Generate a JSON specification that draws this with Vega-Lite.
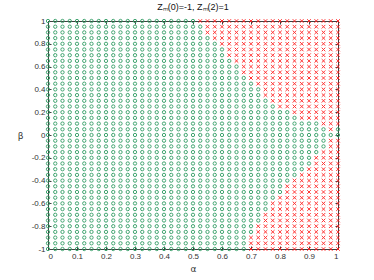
{
"$schema": "https://vega.github.io/schema/vega-lite/v6.json",
"width": 290, "height": 228,
"autosize": "none",
"padding": {"left": 48, "top": 21, "right": 36, "bottom": 31},
"background": "white",
"config": {"view": {"stroke": null}, "font": "Liberation Sans",
 "axis": {"domainColor": "#404040", "tickColor": "#404040", "labelColor": "#333333", "labelFont": "Liberation Sans", "labelFontSize": 8, "grid": false, "tickSize": -3, "labelPadding": 6, "titleFont": "DejaVu Sans", "titleFontSize": 9, "titleFontWeight": "normal", "titleColor": "#333333"}},
"title": {"text": "Zₘ(0)=-1, Zₘ(2)=1", "fontSize": 9, "fontWeight": "normal", "color": "#111111", "font": "Liberation Sans", "offset": 5, "anchor": "middle"},
"datasets": {
"g": [
{"a":0,"b":1},{"a":0.025,"b":1},{"a":0.05,"b":1},{"a":0.075,"b":1},{"a":0.1,"b":1},{"a":0.125,"b":1},{"a":0.15,"b":1},{"a":0.175,"b":1},{"a":0.2,"b":1},{"a":0.225,"b":1},{"a":0.25,"b":1},{"a":0.275,"b":1},{"a":0.3,"b":1},{"a":0.325,"b":1},{"a":0.35,"b":1},{"a":0.375,"b":1},{"a":0.4,"b":1},{"a":0.425,"b":1},{"a":0.45,"b":1},{"a":0.475,"b":1},{"a":0.5,"b":1},
{"a":0,"b":0.95},{"a":0.025,"b":0.95},{"a":0.05,"b":0.95},{"a":0.075,"b":0.95},{"a":0.1,"b":0.95},{"a":0.125,"b":0.95},{"a":0.15,"b":0.95},{"a":0.175,"b":0.95},{"a":0.2,"b":0.95},{"a":0.225,"b":0.95},{"a":0.25,"b":0.95},{"a":0.275,"b":0.95},{"a":0.3,"b":0.95},{"a":0.325,"b":0.95},{"a":0.35,"b":0.95},{"a":0.375,"b":0.95},{"a":0.4,"b":0.95},{"a":0.425,"b":0.95},{"a":0.45,"b":0.95},{"a":0.475,"b":0.95},{"a":0.5,"b":0.95},{"a":0.525,"b":0.95},
{"a":0,"b":0.9},{"a":0.025,"b":0.9},{"a":0.05,"b":0.9},{"a":0.075,"b":0.9},{"a":0.1,"b":0.9},{"a":0.125,"b":0.9},{"a":0.15,"b":0.9},{"a":0.175,"b":0.9},{"a":0.2,"b":0.9},{"a":0.225,"b":0.9},{"a":0.25,"b":0.9},{"a":0.275,"b":0.9},{"a":0.3,"b":0.9},{"a":0.325,"b":0.9},{"a":0.35,"b":0.9},{"a":0.375,"b":0.9},{"a":0.4,"b":0.9},{"a":0.425,"b":0.9},{"a":0.45,"b":0.9},{"a":0.475,"b":0.9},{"a":0.5,"b":0.9},{"a":0.525,"b":0.9},
{"a":0,"b":0.85},{"a":0.025,"b":0.85},{"a":0.05,"b":0.85},{"a":0.075,"b":0.85},{"a":0.1,"b":0.85},{"a":0.125,"b":0.85},{"a":0.15,"b":0.85},{"a":0.175,"b":0.85},{"a":0.2,"b":0.85},{"a":0.225,"b":0.85},{"a":0.25,"b":0.85},{"a":0.275,"b":0.85},{"a":0.3,"b":0.85},{"a":0.325,"b":0.85},{"a":0.35,"b":0.85},{"a":0.375,"b":0.85},{"a":0.4,"b":0.85},{"a":0.425,"b":0.85},{"a":0.45,"b":0.85},{"a":0.475,"b":0.85},{"a":0.5,"b":0.85},{"a":0.525,"b":0.85},{"a":0.55,"b":0.85},
{"a":0,"b":0.8},{"a":0.025,"b":0.8},{"a":0.05,"b":0.8},{"a":0.075,"b":0.8},{"a":0.1,"b":0.8},{"a":0.125,"b":0.8},{"a":0.15,"b":0.8},{"a":0.175,"b":0.8},{"a":0.2,"b":0.8},{"a":0.225,"b":0.8},{"a":0.25,"b":0.8},{"a":0.275,"b":0.8},{"a":0.3,"b":0.8},{"a":0.325,"b":0.8},{"a":0.35,"b":0.8},{"a":0.375,"b":0.8},{"a":0.4,"b":0.8},{"a":0.425,"b":0.8},{"a":0.45,"b":0.8},{"a":0.475,"b":0.8},{"a":0.5,"b":0.8},{"a":0.525,"b":0.8},{"a":0.55,"b":0.8},{"a":0.575,"b":0.8},
{"a":0,"b":0.75},{"a":0.025,"b":0.75},{"a":0.05,"b":0.75},{"a":0.075,"b":0.75},{"a":0.1,"b":0.75},{"a":0.125,"b":0.75},{"a":0.15,"b":0.75},{"a":0.175,"b":0.75},{"a":0.2,"b":0.75},{"a":0.225,"b":0.75},{"a":0.25,"b":0.75},{"a":0.275,"b":0.75},{"a":0.3,"b":0.75},{"a":0.325,"b":0.75},{"a":0.35,"b":0.75},{"a":0.375,"b":0.75},{"a":0.4,"b":0.75},{"a":0.425,"b":0.75},{"a":0.45,"b":0.75},{"a":0.475,"b":0.75},{"a":0.5,"b":0.75},{"a":0.525,"b":0.75},{"a":0.55,"b":0.75},{"a":0.575,"b":0.75},{"a":0.6,"b":0.75},
{"a":0,"b":0.7},{"a":0.025,"b":0.7},{"a":0.05,"b":0.7},{"a":0.075,"b":0.7},{"a":0.1,"b":0.7},{"a":0.125,"b":0.7},{"a":0.15,"b":0.7},{"a":0.175,"b":0.7},{"a":0.2,"b":0.7},{"a":0.225,"b":0.7},{"a":0.25,"b":0.7},{"a":0.275,"b":0.7},{"a":0.3,"b":0.7},{"a":0.325,"b":0.7},{"a":0.35,"b":0.7},{"a":0.375,"b":0.7},{"a":0.4,"b":0.7},{"a":0.425,"b":0.7},{"a":0.45,"b":0.7},{"a":0.475,"b":0.7},{"a":0.5,"b":0.7},{"a":0.525,"b":0.7},{"a":0.55,"b":0.7},{"a":0.575,"b":0.7},{"a":0.6,"b":0.7},
{"a":0,"b":0.65},{"a":0.025,"b":0.65},{"a":0.05,"b":0.65},{"a":0.075,"b":0.65},{"a":0.1,"b":0.65},{"a":0.125,"b":0.65},{"a":0.15,"b":0.65},{"a":0.175,"b":0.65},{"a":0.2,"b":0.65},{"a":0.225,"b":0.65},{"a":0.25,"b":0.65},{"a":0.275,"b":0.65},{"a":0.3,"b":0.65},{"a":0.325,"b":0.65},{"a":0.35,"b":0.65},{"a":0.375,"b":0.65},{"a":0.4,"b":0.65},{"a":0.425,"b":0.65},{"a":0.45,"b":0.65},{"a":0.475,"b":0.65},{"a":0.5,"b":0.65},{"a":0.525,"b":0.65},{"a":0.55,"b":0.65},{"a":0.575,"b":0.65},{"a":0.6,"b":0.65},{"a":0.625,"b":0.65},
{"a":0,"b":0.6},{"a":0.025,"b":0.6},{"a":0.05,"b":0.6},{"a":0.075,"b":0.6},{"a":0.1,"b":0.6},{"a":0.125,"b":0.6},{"a":0.15,"b":0.6},{"a":0.175,"b":0.6},{"a":0.2,"b":0.6},{"a":0.225,"b":0.6},{"a":0.25,"b":0.6},{"a":0.275,"b":0.6},{"a":0.3,"b":0.6},{"a":0.325,"b":0.6},{"a":0.35,"b":0.6},{"a":0.375,"b":0.6},{"a":0.4,"b":0.6},{"a":0.425,"b":0.6},{"a":0.45,"b":0.6},{"a":0.475,"b":0.6},{"a":0.5,"b":0.6},{"a":0.525,"b":0.6},{"a":0.55,"b":0.6},{"a":0.575,"b":0.6},{"a":0.6,"b":0.6},{"a":0.625,"b":0.6},{"a":0.65,"b":0.6},
{"a":0,"b":0.55},{"a":0.025,"b":0.55},{"a":0.05,"b":0.55},{"a":0.075,"b":0.55},{"a":0.1,"b":0.55},{"a":0.125,"b":0.55},{"a":0.15,"b":0.55},{"a":0.175,"b":0.55},{"a":0.2,"b":0.55},{"a":0.225,"b":0.55},{"a":0.25,"b":0.55},{"a":0.275,"b":0.55},{"a":0.3,"b":0.55},{"a":0.325,"b":0.55},{"a":0.35,"b":0.55},{"a":0.375,"b":0.55},{"a":0.4,"b":0.55},{"a":0.425,"b":0.55},{"a":0.45,"b":0.55},{"a":0.475,"b":0.55},{"a":0.5,"b":0.55},{"a":0.525,"b":0.55},{"a":0.55,"b":0.55},{"a":0.575,"b":0.55},{"a":0.6,"b":0.55},{"a":0.625,"b":0.55},{"a":0.65,"b":0.55},
{"a":0,"b":0.5},{"a":0.025,"b":0.5},{"a":0.05,"b":0.5},{"a":0.075,"b":0.5},{"a":0.1,"b":0.5},{"a":0.125,"b":0.5},{"a":0.15,"b":0.5},{"a":0.175,"b":0.5},{"a":0.2,"b":0.5},{"a":0.225,"b":0.5},{"a":0.25,"b":0.5},{"a":0.275,"b":0.5},{"a":0.3,"b":0.5},{"a":0.325,"b":0.5},{"a":0.35,"b":0.5},{"a":0.375,"b":0.5},{"a":0.4,"b":0.5},{"a":0.425,"b":0.5},{"a":0.45,"b":0.5},{"a":0.475,"b":0.5},{"a":0.5,"b":0.5},{"a":0.525,"b":0.5},{"a":0.55,"b":0.5},{"a":0.575,"b":0.5},{"a":0.6,"b":0.5},{"a":0.625,"b":0.5},{"a":0.65,"b":0.5},{"a":0.675,"b":0.5},
{"a":0,"b":0.45},{"a":0.025,"b":0.45},{"a":0.05,"b":0.45},{"a":0.075,"b":0.45},{"a":0.1,"b":0.45},{"a":0.125,"b":0.45},{"a":0.15,"b":0.45},{"a":0.175,"b":0.45},{"a":0.2,"b":0.45},{"a":0.225,"b":0.45},{"a":0.25,"b":0.45},{"a":0.275,"b":0.45},{"a":0.3,"b":0.45},{"a":0.325,"b":0.45},{"a":0.35,"b":0.45},{"a":0.375,"b":0.45},{"a":0.4,"b":0.45},{"a":0.425,"b":0.45},{"a":0.45,"b":0.45},{"a":0.475,"b":0.45},{"a":0.5,"b":0.45},{"a":0.525,"b":0.45},{"a":0.55,"b":0.45},{"a":0.575,"b":0.45},{"a":0.6,"b":0.45},{"a":0.625,"b":0.45},{"a":0.65,"b":0.45},{"a":0.675,"b":0.45},{"a":0.7,"b":0.45},
{"a":0,"b":0.4},{"a":0.025,"b":0.4},{"a":0.05,"b":0.4},{"a":0.075,"b":0.4},{"a":0.1,"b":0.4},{"a":0.125,"b":0.4},{"a":0.15,"b":0.4},{"a":0.175,"b":0.4},{"a":0.2,"b":0.4},{"a":0.225,"b":0.4},{"a":0.25,"b":0.4},{"a":0.275,"b":0.4},{"a":0.3,"b":0.4},{"a":0.325,"b":0.4},{"a":0.35,"b":0.4},{"a":0.375,"b":0.4},{"a":0.4,"b":0.4},{"a":0.425,"b":0.4},{"a":0.45,"b":0.4},{"a":0.475,"b":0.4},{"a":0.5,"b":0.4},{"a":0.525,"b":0.4},{"a":0.55,"b":0.4},{"a":0.575,"b":0.4},{"a":0.6,"b":0.4},{"a":0.625,"b":0.4},{"a":0.65,"b":0.4},{"a":0.675,"b":0.4},{"a":0.7,"b":0.4},{"a":0.725,"b":0.4},
{"a":0,"b":0.35},{"a":0.025,"b":0.35},{"a":0.05,"b":0.35},{"a":0.075,"b":0.35},{"a":0.1,"b":0.35},{"a":0.125,"b":0.35},{"a":0.15,"b":0.35},{"a":0.175,"b":0.35},{"a":0.2,"b":0.35},{"a":0.225,"b":0.35},{"a":0.25,"b":0.35},{"a":0.275,"b":0.35},{"a":0.3,"b":0.35},{"a":0.325,"b":0.35},{"a":0.35,"b":0.35},{"a":0.375,"b":0.35},{"a":0.4,"b":0.35},{"a":0.425,"b":0.35},{"a":0.45,"b":0.35},{"a":0.475,"b":0.35},{"a":0.5,"b":0.35},{"a":0.525,"b":0.35},{"a":0.55,"b":0.35},{"a":0.575,"b":0.35},{"a":0.6,"b":0.35},{"a":0.625,"b":0.35},{"a":0.65,"b":0.35},{"a":0.675,"b":0.35},{"a":0.7,"b":0.35},{"a":0.725,"b":0.35},
{"a":0,"b":0.3},{"a":0.025,"b":0.3},{"a":0.05,"b":0.3},{"a":0.075,"b":0.3},{"a":0.1,"b":0.3},{"a":0.125,"b":0.3},{"a":0.15,"b":0.3},{"a":0.175,"b":0.3},{"a":0.2,"b":0.3},{"a":0.225,"b":0.3},{"a":0.25,"b":0.3},{"a":0.275,"b":0.3},{"a":0.3,"b":0.3},{"a":0.325,"b":0.3},{"a":0.35,"b":0.3},{"a":0.375,"b":0.3},{"a":0.4,"b":0.3},{"a":0.425,"b":0.3},{"a":0.45,"b":0.3},{"a":0.475,"b":0.3},{"a":0.5,"b":0.3},{"a":0.525,"b":0.3},{"a":0.55,"b":0.3},{"a":0.575,"b":0.3},{"a":0.6,"b":0.3},{"a":0.625,"b":0.3},{"a":0.65,"b":0.3},{"a":0.675,"b":0.3},{"a":0.7,"b":0.3},{"a":0.725,"b":0.3},{"a":0.75,"b":0.3},
{"a":0,"b":0.25},{"a":0.025,"b":0.25},{"a":0.05,"b":0.25},{"a":0.075,"b":0.25},{"a":0.1,"b":0.25},{"a":0.125,"b":0.25},{"a":0.15,"b":0.25},{"a":0.175,"b":0.25},{"a":0.2,"b":0.25},{"a":0.225,"b":0.25},{"a":0.25,"b":0.25},{"a":0.275,"b":0.25},{"a":0.3,"b":0.25},{"a":0.325,"b":0.25},{"a":0.35,"b":0.25},{"a":0.375,"b":0.25},{"a":0.4,"b":0.25},{"a":0.425,"b":0.25},{"a":0.45,"b":0.25},{"a":0.475,"b":0.25},{"a":0.5,"b":0.25},{"a":0.525,"b":0.25},{"a":0.55,"b":0.25},{"a":0.575,"b":0.25},{"a":0.6,"b":0.25},{"a":0.625,"b":0.25},{"a":0.65,"b":0.25},{"a":0.675,"b":0.25},{"a":0.7,"b":0.25},{"a":0.725,"b":0.25},{"a":0.75,"b":0.25},{"a":0.775,"b":0.25},
{"a":0,"b":0.2},{"a":0.025,"b":0.2},{"a":0.05,"b":0.2},{"a":0.075,"b":0.2},{"a":0.1,"b":0.2},{"a":0.125,"b":0.2},{"a":0.15,"b":0.2},{"a":0.175,"b":0.2},{"a":0.2,"b":0.2},{"a":0.225,"b":0.2},{"a":0.25,"b":0.2},{"a":0.275,"b":0.2},{"a":0.3,"b":0.2},{"a":0.325,"b":0.2},{"a":0.35,"b":0.2},{"a":0.375,"b":0.2},{"a":0.4,"b":0.2},{"a":0.425,"b":0.2},{"a":0.45,"b":0.2},{"a":0.475,"b":0.2},{"a":0.5,"b":0.2},{"a":0.525,"b":0.2},{"a":0.55,"b":0.2},{"a":0.575,"b":0.2},{"a":0.6,"b":0.2},{"a":0.625,"b":0.2},{"a":0.65,"b":0.2},{"a":0.675,"b":0.2},{"a":0.7,"b":0.2},{"a":0.725,"b":0.2},{"a":0.75,"b":0.2},{"a":0.775,"b":0.2},{"a":0.8,"b":0.2},{"a":0.825,"b":0.2},
{"a":0,"b":0.15},{"a":0.025,"b":0.15},{"a":0.05,"b":0.15},{"a":0.075,"b":0.15},{"a":0.1,"b":0.15},{"a":0.125,"b":0.15},{"a":0.15,"b":0.15},{"a":0.175,"b":0.15},{"a":0.2,"b":0.15},{"a":0.225,"b":0.15},{"a":0.25,"b":0.15},{"a":0.275,"b":0.15},{"a":0.3,"b":0.15},{"a":0.325,"b":0.15},{"a":0.35,"b":0.15},{"a":0.375,"b":0.15},{"a":0.4,"b":0.15},{"a":0.425,"b":0.15},{"a":0.45,"b":0.15},{"a":0.475,"b":0.15},{"a":0.5,"b":0.15},{"a":0.525,"b":0.15},{"a":0.55,"b":0.15},{"a":0.575,"b":0.15},{"a":0.6,"b":0.15},{"a":0.625,"b":0.15},{"a":0.65,"b":0.15},{"a":0.675,"b":0.15},{"a":0.7,"b":0.15},{"a":0.725,"b":0.15},{"a":0.75,"b":0.15},{"a":0.775,"b":0.15},{"a":0.8,"b":0.15},{"a":0.825,"b":0.15},{"a":0.85,"b":0.15},
{"a":0,"b":0.1},{"a":0.025,"b":0.1},{"a":0.05,"b":0.1},{"a":0.075,"b":0.1},{"a":0.1,"b":0.1},{"a":0.125,"b":0.1},{"a":0.15,"b":0.1},{"a":0.175,"b":0.1},{"a":0.2,"b":0.1},{"a":0.225,"b":0.1},{"a":0.25,"b":0.1},{"a":0.275,"b":0.1},{"a":0.3,"b":0.1},{"a":0.325,"b":0.1},{"a":0.35,"b":0.1},{"a":0.375,"b":0.1},{"a":0.4,"b":0.1},{"a":0.425,"b":0.1},{"a":0.45,"b":0.1},{"a":0.475,"b":0.1},{"a":0.5,"b":0.1},{"a":0.525,"b":0.1},{"a":0.55,"b":0.1},{"a":0.575,"b":0.1},{"a":0.6,"b":0.1},{"a":0.625,"b":0.1},{"a":0.65,"b":0.1},{"a":0.675,"b":0.1},{"a":0.7,"b":0.1},{"a":0.725,"b":0.1},{"a":0.75,"b":0.1},{"a":0.775,"b":0.1},{"a":0.8,"b":0.1},{"a":0.825,"b":0.1},{"a":0.85,"b":0.1},{"a":0.875,"b":0.1},{"a":0.9,"b":0.1},{"a":0.925,"b":0.1},
{"a":0,"b":0.05},{"a":0.025,"b":0.05},{"a":0.05,"b":0.05},{"a":0.075,"b":0.05},{"a":0.1,"b":0.05},{"a":0.125,"b":0.05},{"a":0.15,"b":0.05},{"a":0.175,"b":0.05},{"a":0.2,"b":0.05},{"a":0.225,"b":0.05},{"a":0.25,"b":0.05},{"a":0.275,"b":0.05},{"a":0.3,"b":0.05},{"a":0.325,"b":0.05},{"a":0.35,"b":0.05},{"a":0.375,"b":0.05},{"a":0.4,"b":0.05},{"a":0.425,"b":0.05},{"a":0.45,"b":0.05},{"a":0.475,"b":0.05},{"a":0.5,"b":0.05},{"a":0.525,"b":0.05},{"a":0.55,"b":0.05},{"a":0.575,"b":0.05},{"a":0.6,"b":0.05},{"a":0.625,"b":0.05},{"a":0.65,"b":0.05},{"a":0.675,"b":0.05},{"a":0.7,"b":0.05},{"a":0.725,"b":0.05},{"a":0.75,"b":0.05},{"a":0.775,"b":0.05},{"a":0.8,"b":0.05},{"a":0.825,"b":0.05},{"a":0.85,"b":0.05},{"a":0.875,"b":0.05},{"a":0.9,"b":0.05},{"a":0.925,"b":0.05},{"a":0.95,"b":0.05},{"a":1,"b":0.05},
{"a":0,"b":0},{"a":0.025,"b":0},{"a":0.05,"b":0},{"a":0.075,"b":0},{"a":0.1,"b":0},{"a":0.125,"b":0},{"a":0.15,"b":0},{"a":0.175,"b":0},{"a":0.2,"b":0},{"a":0.225,"b":0},{"a":0.25,"b":0},{"a":0.275,"b":0},{"a":0.3,"b":0},{"a":0.325,"b":0},{"a":0.35,"b":0},{"a":0.375,"b":0},{"a":0.4,"b":0},{"a":0.425,"b":0},{"a":0.45,"b":0},{"a":0.475,"b":0},{"a":0.5,"b":0},{"a":0.525,"b":0},{"a":0.55,"b":0},{"a":0.575,"b":0},{"a":0.6,"b":0},{"a":0.625,"b":0},{"a":0.65,"b":0},{"a":0.675,"b":0},{"a":0.7,"b":0},{"a":0.725,"b":0},{"a":0.75,"b":0},{"a":0.775,"b":0},{"a":0.8,"b":0},{"a":0.825,"b":0},{"a":0.85,"b":0},{"a":0.875,"b":0},{"a":0.9,"b":0},{"a":0.925,"b":0},{"a":0.95,"b":0},{"a":0.975,"b":0},{"a":1,"b":0},
{"a":0,"b":-0.05},{"a":0.025,"b":-0.05},{"a":0.05,"b":-0.05},{"a":0.075,"b":-0.05},{"a":0.1,"b":-0.05},{"a":0.125,"b":-0.05},{"a":0.15,"b":-0.05},{"a":0.175,"b":-0.05},{"a":0.2,"b":-0.05},{"a":0.225,"b":-0.05},{"a":0.25,"b":-0.05},{"a":0.275,"b":-0.05},{"a":0.3,"b":-0.05},{"a":0.325,"b":-0.05},{"a":0.35,"b":-0.05},{"a":0.375,"b":-0.05},{"a":0.4,"b":-0.05},{"a":0.425,"b":-0.05},{"a":0.45,"b":-0.05},{"a":0.475,"b":-0.05},{"a":0.5,"b":-0.05},{"a":0.525,"b":-0.05},{"a":0.55,"b":-0.05},{"a":0.575,"b":-0.05},{"a":0.6,"b":-0.05},{"a":0.625,"b":-0.05},{"a":0.65,"b":-0.05},{"a":0.675,"b":-0.05},{"a":0.7,"b":-0.05},{"a":0.725,"b":-0.05},{"a":0.75,"b":-0.05},{"a":0.775,"b":-0.05},{"a":0.8,"b":-0.05},{"a":0.825,"b":-0.05},{"a":0.85,"b":-0.05},{"a":0.875,"b":-0.05},{"a":0.9,"b":-0.05},{"a":0.925,"b":-0.05},{"a":0.95,"b":-0.05},
{"a":0,"b":-0.1},{"a":0.025,"b":-0.1},{"a":0.05,"b":-0.1},{"a":0.075,"b":-0.1},{"a":0.1,"b":-0.1},{"a":0.125,"b":-0.1},{"a":0.15,"b":-0.1},{"a":0.175,"b":-0.1},{"a":0.2,"b":-0.1},{"a":0.225,"b":-0.1},{"a":0.25,"b":-0.1},{"a":0.275,"b":-0.1},{"a":0.3,"b":-0.1},{"a":0.325,"b":-0.1},{"a":0.35,"b":-0.1},{"a":0.375,"b":-0.1},{"a":0.4,"b":-0.1},{"a":0.425,"b":-0.1},{"a":0.45,"b":-0.1},{"a":0.475,"b":-0.1},{"a":0.5,"b":-0.1},{"a":0.525,"b":-0.1},{"a":0.55,"b":-0.1},{"a":0.575,"b":-0.1},{"a":0.6,"b":-0.1},{"a":0.625,"b":-0.1},{"a":0.65,"b":-0.1},{"a":0.675,"b":-0.1},{"a":0.7,"b":-0.1},{"a":0.725,"b":-0.1},{"a":0.75,"b":-0.1},{"a":0.775,"b":-0.1},{"a":0.8,"b":-0.1},{"a":0.825,"b":-0.1},{"a":0.85,"b":-0.1},{"a":0.875,"b":-0.1},{"a":0.9,"b":-0.1},{"a":0.925,"b":-0.1},{"a":0.95,"b":-0.1},
{"a":0,"b":-0.15},{"a":0.025,"b":-0.15},{"a":0.05,"b":-0.15},{"a":0.075,"b":-0.15},{"a":0.1,"b":-0.15},{"a":0.125,"b":-0.15},{"a":0.15,"b":-0.15},{"a":0.175,"b":-0.15},{"a":0.2,"b":-0.15},{"a":0.225,"b":-0.15},{"a":0.25,"b":-0.15},{"a":0.275,"b":-0.15},{"a":0.3,"b":-0.15},{"a":0.325,"b":-0.15},{"a":0.35,"b":-0.15},{"a":0.375,"b":-0.15},{"a":0.4,"b":-0.15},{"a":0.425,"b":-0.15},{"a":0.45,"b":-0.15},{"a":0.475,"b":-0.15},{"a":0.5,"b":-0.15},{"a":0.525,"b":-0.15},{"a":0.55,"b":-0.15},{"a":0.575,"b":-0.15},{"a":0.6,"b":-0.15},{"a":0.625,"b":-0.15},{"a":0.65,"b":-0.15},{"a":0.675,"b":-0.15},{"a":0.7,"b":-0.15},{"a":0.725,"b":-0.15},{"a":0.75,"b":-0.15},{"a":0.775,"b":-0.15},{"a":0.8,"b":-0.15},{"a":0.825,"b":-0.15},{"a":0.85,"b":-0.15},{"a":0.875,"b":-0.15},{"a":0.9,"b":-0.15},{"a":0.925,"b":-0.15},
{"a":0,"b":-0.2},{"a":0.025,"b":-0.2},{"a":0.05,"b":-0.2},{"a":0.075,"b":-0.2},{"a":0.1,"b":-0.2},{"a":0.125,"b":-0.2},{"a":0.15,"b":-0.2},{"a":0.175,"b":-0.2},{"a":0.2,"b":-0.2},{"a":0.225,"b":-0.2},{"a":0.25,"b":-0.2},{"a":0.275,"b":-0.2},{"a":0.3,"b":-0.2},{"a":0.325,"b":-0.2},{"a":0.35,"b":-0.2},{"a":0.375,"b":-0.2},{"a":0.4,"b":-0.2},{"a":0.425,"b":-0.2},{"a":0.45,"b":-0.2},{"a":0.475,"b":-0.2},{"a":0.5,"b":-0.2},{"a":0.525,"b":-0.2},{"a":0.55,"b":-0.2},{"a":0.575,"b":-0.2},{"a":0.6,"b":-0.2},{"a":0.625,"b":-0.2},{"a":0.65,"b":-0.2},{"a":0.675,"b":-0.2},{"a":0.7,"b":-0.2},{"a":0.725,"b":-0.2},{"a":0.75,"b":-0.2},{"a":0.775,"b":-0.2},{"a":0.8,"b":-0.2},{"a":0.825,"b":-0.2},{"a":0.85,"b":-0.2},{"a":0.875,"b":-0.2},{"a":0.9,"b":-0.2},
{"a":0,"b":-0.25},{"a":0.025,"b":-0.25},{"a":0.05,"b":-0.25},{"a":0.075,"b":-0.25},{"a":0.1,"b":-0.25},{"a":0.125,"b":-0.25},{"a":0.15,"b":-0.25},{"a":0.175,"b":-0.25},{"a":0.2,"b":-0.25},{"a":0.225,"b":-0.25},{"a":0.25,"b":-0.25},{"a":0.275,"b":-0.25},{"a":0.3,"b":-0.25},{"a":0.325,"b":-0.25},{"a":0.35,"b":-0.25},{"a":0.375,"b":-0.25},{"a":0.4,"b":-0.25},{"a":0.425,"b":-0.25},{"a":0.45,"b":-0.25},{"a":0.475,"b":-0.25},{"a":0.5,"b":-0.25},{"a":0.525,"b":-0.25},{"a":0.55,"b":-0.25},{"a":0.575,"b":-0.25},{"a":0.6,"b":-0.25},{"a":0.625,"b":-0.25},{"a":0.65,"b":-0.25},{"a":0.675,"b":-0.25},{"a":0.7,"b":-0.25},{"a":0.725,"b":-0.25},{"a":0.75,"b":-0.25},{"a":0.775,"b":-0.25},{"a":0.8,"b":-0.25},{"a":0.825,"b":-0.25},{"a":0.85,"b":-0.25},{"a":0.875,"b":-0.25},{"a":0.9,"b":-0.25},
{"a":0,"b":-0.3},{"a":0.025,"b":-0.3},{"a":0.05,"b":-0.3},{"a":0.075,"b":-0.3},{"a":0.1,"b":-0.3},{"a":0.125,"b":-0.3},{"a":0.15,"b":-0.3},{"a":0.175,"b":-0.3},{"a":0.2,"b":-0.3},{"a":0.225,"b":-0.3},{"a":0.25,"b":-0.3},{"a":0.275,"b":-0.3},{"a":0.3,"b":-0.3},{"a":0.325,"b":-0.3},{"a":0.35,"b":-0.3},{"a":0.375,"b":-0.3},{"a":0.4,"b":-0.3},{"a":0.425,"b":-0.3},{"a":0.45,"b":-0.3},{"a":0.475,"b":-0.3},{"a":0.5,"b":-0.3},{"a":0.525,"b":-0.3},{"a":0.55,"b":-0.3},{"a":0.575,"b":-0.3},{"a":0.6,"b":-0.3},{"a":0.625,"b":-0.3},{"a":0.65,"b":-0.3},{"a":0.675,"b":-0.3},{"a":0.7,"b":-0.3},{"a":0.725,"b":-0.3},{"a":0.75,"b":-0.3},{"a":0.775,"b":-0.3},{"a":0.8,"b":-0.3},{"a":0.825,"b":-0.3},{"a":0.85,"b":-0.3},{"a":0.875,"b":-0.3},
{"a":0,"b":-0.35},{"a":0.025,"b":-0.35},{"a":0.05,"b":-0.35},{"a":0.075,"b":-0.35},{"a":0.1,"b":-0.35},{"a":0.125,"b":-0.35},{"a":0.15,"b":-0.35},{"a":0.175,"b":-0.35},{"a":0.2,"b":-0.35},{"a":0.225,"b":-0.35},{"a":0.25,"b":-0.35},{"a":0.275,"b":-0.35},{"a":0.3,"b":-0.35},{"a":0.325,"b":-0.35},{"a":0.35,"b":-0.35},{"a":0.375,"b":-0.35},{"a":0.4,"b":-0.35},{"a":0.425,"b":-0.35},{"a":0.45,"b":-0.35},{"a":0.475,"b":-0.35},{"a":0.5,"b":-0.35},{"a":0.525,"b":-0.35},{"a":0.55,"b":-0.35},{"a":0.575,"b":-0.35},{"a":0.6,"b":-0.35},{"a":0.625,"b":-0.35},{"a":0.65,"b":-0.35},{"a":0.675,"b":-0.35},{"a":0.7,"b":-0.35},{"a":0.725,"b":-0.35},{"a":0.75,"b":-0.35},{"a":0.775,"b":-0.35},{"a":0.8,"b":-0.35},{"a":0.825,"b":-0.35},{"a":0.85,"b":-0.35},
{"a":0,"b":-0.4},{"a":0.025,"b":-0.4},{"a":0.05,"b":-0.4},{"a":0.075,"b":-0.4},{"a":0.1,"b":-0.4},{"a":0.125,"b":-0.4},{"a":0.15,"b":-0.4},{"a":0.175,"b":-0.4},{"a":0.2,"b":-0.4},{"a":0.225,"b":-0.4},{"a":0.25,"b":-0.4},{"a":0.275,"b":-0.4},{"a":0.3,"b":-0.4},{"a":0.325,"b":-0.4},{"a":0.35,"b":-0.4},{"a":0.375,"b":-0.4},{"a":0.4,"b":-0.4},{"a":0.425,"b":-0.4},{"a":0.45,"b":-0.4},{"a":0.475,"b":-0.4},{"a":0.5,"b":-0.4},{"a":0.525,"b":-0.4},{"a":0.55,"b":-0.4},{"a":0.575,"b":-0.4},{"a":0.6,"b":-0.4},{"a":0.625,"b":-0.4},{"a":0.65,"b":-0.4},{"a":0.675,"b":-0.4},{"a":0.7,"b":-0.4},{"a":0.725,"b":-0.4},{"a":0.75,"b":-0.4},{"a":0.775,"b":-0.4},{"a":0.8,"b":-0.4},{"a":0.825,"b":-0.4},
{"a":0,"b":-0.45},{"a":0.025,"b":-0.45},{"a":0.05,"b":-0.45},{"a":0.075,"b":-0.45},{"a":0.1,"b":-0.45},{"a":0.125,"b":-0.45},{"a":0.15,"b":-0.45},{"a":0.175,"b":-0.45},{"a":0.2,"b":-0.45},{"a":0.225,"b":-0.45},{"a":0.25,"b":-0.45},{"a":0.275,"b":-0.45},{"a":0.3,"b":-0.45},{"a":0.325,"b":-0.45},{"a":0.35,"b":-0.45},{"a":0.375,"b":-0.45},{"a":0.4,"b":-0.45},{"a":0.425,"b":-0.45},{"a":0.45,"b":-0.45},{"a":0.475,"b":-0.45},{"a":0.5,"b":-0.45},{"a":0.525,"b":-0.45},{"a":0.55,"b":-0.45},{"a":0.575,"b":-0.45},{"a":0.6,"b":-0.45},{"a":0.625,"b":-0.45},{"a":0.65,"b":-0.45},{"a":0.675,"b":-0.45},{"a":0.7,"b":-0.45},{"a":0.725,"b":-0.45},{"a":0.75,"b":-0.45},{"a":0.775,"b":-0.45},{"a":0.8,"b":-0.45},
{"a":0,"b":-0.5},{"a":0.025,"b":-0.5},{"a":0.05,"b":-0.5},{"a":0.075,"b":-0.5},{"a":0.1,"b":-0.5},{"a":0.125,"b":-0.5},{"a":0.15,"b":-0.5},{"a":0.175,"b":-0.5},{"a":0.2,"b":-0.5},{"a":0.225,"b":-0.5},{"a":0.25,"b":-0.5},{"a":0.275,"b":-0.5},{"a":0.3,"b":-0.5},{"a":0.325,"b":-0.5},{"a":0.35,"b":-0.5},{"a":0.375,"b":-0.5},{"a":0.4,"b":-0.5},{"a":0.425,"b":-0.5},{"a":0.45,"b":-0.5},{"a":0.475,"b":-0.5},{"a":0.5,"b":-0.5},{"a":0.525,"b":-0.5},{"a":0.55,"b":-0.5},{"a":0.575,"b":-0.5},{"a":0.6,"b":-0.5},{"a":0.625,"b":-0.5},{"a":0.65,"b":-0.5},{"a":0.675,"b":-0.5},{"a":0.7,"b":-0.5},{"a":0.725,"b":-0.5},{"a":0.75,"b":-0.5},{"a":0.775,"b":-0.5},{"a":0.8,"b":-0.5},
{"a":0,"b":-0.55},{"a":0.025,"b":-0.55},{"a":0.05,"b":-0.55},{"a":0.075,"b":-0.55},{"a":0.1,"b":-0.55},{"a":0.125,"b":-0.55},{"a":0.15,"b":-0.55},{"a":0.175,"b":-0.55},{"a":0.2,"b":-0.55},{"a":0.225,"b":-0.55},{"a":0.25,"b":-0.55},{"a":0.275,"b":-0.55},{"a":0.3,"b":-0.55},{"a":0.325,"b":-0.55},{"a":0.35,"b":-0.55},{"a":0.375,"b":-0.55},{"a":0.4,"b":-0.55},{"a":0.425,"b":-0.55},{"a":0.45,"b":-0.55},{"a":0.475,"b":-0.55},{"a":0.5,"b":-0.55},{"a":0.525,"b":-0.55},{"a":0.55,"b":-0.55},{"a":0.575,"b":-0.55},{"a":0.6,"b":-0.55},{"a":0.625,"b":-0.55},{"a":0.65,"b":-0.55},{"a":0.675,"b":-0.55},{"a":0.7,"b":-0.55},{"a":0.725,"b":-0.55},{"a":0.75,"b":-0.55},{"a":0.775,"b":-0.55},
{"a":0,"b":-0.6},{"a":0.025,"b":-0.6},{"a":0.05,"b":-0.6},{"a":0.075,"b":-0.6},{"a":0.1,"b":-0.6},{"a":0.125,"b":-0.6},{"a":0.15,"b":-0.6},{"a":0.175,"b":-0.6},{"a":0.2,"b":-0.6},{"a":0.225,"b":-0.6},{"a":0.25,"b":-0.6},{"a":0.275,"b":-0.6},{"a":0.3,"b":-0.6},{"a":0.325,"b":-0.6},{"a":0.35,"b":-0.6},{"a":0.375,"b":-0.6},{"a":0.4,"b":-0.6},{"a":0.425,"b":-0.6},{"a":0.45,"b":-0.6},{"a":0.475,"b":-0.6},{"a":0.5,"b":-0.6},{"a":0.525,"b":-0.6},{"a":0.55,"b":-0.6},{"a":0.575,"b":-0.6},{"a":0.6,"b":-0.6},{"a":0.625,"b":-0.6},{"a":0.65,"b":-0.6},{"a":0.675,"b":-0.6},{"a":0.7,"b":-0.6},{"a":0.725,"b":-0.6},{"a":0.75,"b":-0.6},
{"a":0,"b":-0.65},{"a":0.025,"b":-0.65},{"a":0.05,"b":-0.65},{"a":0.075,"b":-0.65},{"a":0.1,"b":-0.65},{"a":0.125,"b":-0.65},{"a":0.15,"b":-0.65},{"a":0.175,"b":-0.65},{"a":0.2,"b":-0.65},{"a":0.225,"b":-0.65},{"a":0.25,"b":-0.65},{"a":0.275,"b":-0.65},{"a":0.3,"b":-0.65},{"a":0.325,"b":-0.65},{"a":0.35,"b":-0.65},{"a":0.375,"b":-0.65},{"a":0.4,"b":-0.65},{"a":0.425,"b":-0.65},{"a":0.45,"b":-0.65},{"a":0.475,"b":-0.65},{"a":0.5,"b":-0.65},{"a":0.525,"b":-0.65},{"a":0.55,"b":-0.65},{"a":0.575,"b":-0.65},{"a":0.6,"b":-0.65},{"a":0.625,"b":-0.65},{"a":0.65,"b":-0.65},{"a":0.675,"b":-0.65},{"a":0.7,"b":-0.65},{"a":0.725,"b":-0.65},{"a":0.75,"b":-0.65},
{"a":0,"b":-0.7},{"a":0.025,"b":-0.7},{"a":0.05,"b":-0.7},{"a":0.075,"b":-0.7},{"a":0.1,"b":-0.7},{"a":0.125,"b":-0.7},{"a":0.15,"b":-0.7},{"a":0.175,"b":-0.7},{"a":0.2,"b":-0.7},{"a":0.225,"b":-0.7},{"a":0.25,"b":-0.7},{"a":0.275,"b":-0.7},{"a":0.3,"b":-0.7},{"a":0.325,"b":-0.7},{"a":0.35,"b":-0.7},{"a":0.375,"b":-0.7},{"a":0.4,"b":-0.7},{"a":0.425,"b":-0.7},{"a":0.45,"b":-0.7},{"a":0.475,"b":-0.7},{"a":0.5,"b":-0.7},{"a":0.525,"b":-0.7},{"a":0.55,"b":-0.7},{"a":0.575,"b":-0.7},{"a":0.6,"b":-0.7},{"a":0.625,"b":-0.7},{"a":0.65,"b":-0.7},{"a":0.675,"b":-0.7},{"a":0.7,"b":-0.7},{"a":0.725,"b":-0.7},
{"a":0,"b":-0.75},{"a":0.025,"b":-0.75},{"a":0.05,"b":-0.75},{"a":0.075,"b":-0.75},{"a":0.1,"b":-0.75},{"a":0.125,"b":-0.75},{"a":0.15,"b":-0.75},{"a":0.175,"b":-0.75},{"a":0.2,"b":-0.75},{"a":0.225,"b":-0.75},{"a":0.25,"b":-0.75},{"a":0.275,"b":-0.75},{"a":0.3,"b":-0.75},{"a":0.325,"b":-0.75},{"a":0.35,"b":-0.75},{"a":0.375,"b":-0.75},{"a":0.4,"b":-0.75},{"a":0.425,"b":-0.75},{"a":0.45,"b":-0.75},{"a":0.475,"b":-0.75},{"a":0.5,"b":-0.75},{"a":0.525,"b":-0.75},{"a":0.55,"b":-0.75},{"a":0.575,"b":-0.75},{"a":0.6,"b":-0.75},{"a":0.625,"b":-0.75},{"a":0.65,"b":-0.75},{"a":0.675,"b":-0.75},{"a":0.7,"b":-0.75},{"a":0.725,"b":-0.75},
{"a":0,"b":-0.8},{"a":0.025,"b":-0.8},{"a":0.05,"b":-0.8},{"a":0.075,"b":-0.8},{"a":0.1,"b":-0.8},{"a":0.125,"b":-0.8},{"a":0.15,"b":-0.8},{"a":0.175,"b":-0.8},{"a":0.2,"b":-0.8},{"a":0.225,"b":-0.8},{"a":0.25,"b":-0.8},{"a":0.275,"b":-0.8},{"a":0.3,"b":-0.8},{"a":0.325,"b":-0.8},{"a":0.35,"b":-0.8},{"a":0.375,"b":-0.8},{"a":0.4,"b":-0.8},{"a":0.425,"b":-0.8},{"a":0.45,"b":-0.8},{"a":0.475,"b":-0.8},{"a":0.5,"b":-0.8},{"a":0.525,"b":-0.8},{"a":0.55,"b":-0.8},{"a":0.575,"b":-0.8},{"a":0.6,"b":-0.8},{"a":0.625,"b":-0.8},{"a":0.65,"b":-0.8},{"a":0.675,"b":-0.8},{"a":0.7,"b":-0.8},
{"a":0,"b":-0.85},{"a":0.025,"b":-0.85},{"a":0.05,"b":-0.85},{"a":0.075,"b":-0.85},{"a":0.1,"b":-0.85},{"a":0.125,"b":-0.85},{"a":0.15,"b":-0.85},{"a":0.175,"b":-0.85},{"a":0.2,"b":-0.85},{"a":0.225,"b":-0.85},{"a":0.25,"b":-0.85},{"a":0.275,"b":-0.85},{"a":0.3,"b":-0.85},{"a":0.325,"b":-0.85},{"a":0.35,"b":-0.85},{"a":0.375,"b":-0.85},{"a":0.4,"b":-0.85},{"a":0.425,"b":-0.85},{"a":0.45,"b":-0.85},{"a":0.475,"b":-0.85},{"a":0.5,"b":-0.85},{"a":0.525,"b":-0.85},{"a":0.55,"b":-0.85},{"a":0.575,"b":-0.85},{"a":0.6,"b":-0.85},{"a":0.625,"b":-0.85},{"a":0.65,"b":-0.85},{"a":0.675,"b":-0.85},{"a":0.7,"b":-0.85},
{"a":0,"b":-0.9},{"a":0.025,"b":-0.9},{"a":0.05,"b":-0.9},{"a":0.075,"b":-0.9},{"a":0.1,"b":-0.9},{"a":0.125,"b":-0.9},{"a":0.15,"b":-0.9},{"a":0.175,"b":-0.9},{"a":0.2,"b":-0.9},{"a":0.225,"b":-0.9},{"a":0.25,"b":-0.9},{"a":0.275,"b":-0.9},{"a":0.3,"b":-0.9},{"a":0.325,"b":-0.9},{"a":0.35,"b":-0.9},{"a":0.375,"b":-0.9},{"a":0.4,"b":-0.9},{"a":0.425,"b":-0.9},{"a":0.45,"b":-0.9},{"a":0.475,"b":-0.9},{"a":0.5,"b":-0.9},{"a":0.525,"b":-0.9},{"a":0.55,"b":-0.9},{"a":0.575,"b":-0.9},{"a":0.6,"b":-0.9},{"a":0.625,"b":-0.9},{"a":0.65,"b":-0.9},{"a":0.675,"b":-0.9},
{"a":0,"b":-0.95},{"a":0.025,"b":-0.95},{"a":0.05,"b":-0.95},{"a":0.075,"b":-0.95},{"a":0.1,"b":-0.95},{"a":0.125,"b":-0.95},{"a":0.15,"b":-0.95},{"a":0.175,"b":-0.95},{"a":0.2,"b":-0.95},{"a":0.225,"b":-0.95},{"a":0.25,"b":-0.95},{"a":0.275,"b":-0.95},{"a":0.3,"b":-0.95},{"a":0.325,"b":-0.95},{"a":0.35,"b":-0.95},{"a":0.375,"b":-0.95},{"a":0.4,"b":-0.95},{"a":0.425,"b":-0.95},{"a":0.45,"b":-0.95},{"a":0.475,"b":-0.95},{"a":0.5,"b":-0.95},{"a":0.525,"b":-0.95},{"a":0.55,"b":-0.95},{"a":0.575,"b":-0.95},{"a":0.6,"b":-0.95},{"a":0.625,"b":-0.95},{"a":0.65,"b":-0.95},{"a":0.675,"b":-0.95},
{"a":0,"b":-1},{"a":0.025,"b":-1},{"a":0.05,"b":-1},{"a":0.075,"b":-1},{"a":0.1,"b":-1},{"a":0.125,"b":-1},{"a":0.15,"b":-1},{"a":0.175,"b":-1},{"a":0.2,"b":-1},{"a":0.225,"b":-1},{"a":0.25,"b":-1},{"a":0.275,"b":-1},{"a":0.3,"b":-1},{"a":0.325,"b":-1},{"a":0.35,"b":-1},{"a":0.375,"b":-1},{"a":0.4,"b":-1},{"a":0.425,"b":-1},{"a":0.45,"b":-1},{"a":0.475,"b":-1},{"a":0.5,"b":-1},{"a":0.525,"b":-1},{"a":0.55,"b":-1},{"a":0.575,"b":-1},{"a":0.6,"b":-1},{"a":0.625,"b":-1},{"a":0.65,"b":-1},{"a":0.675,"b":-1}
],
"r": [
{"a":0.525,"b":1},{"a":0.55,"b":1},{"a":0.575,"b":1},{"a":0.6,"b":1},{"a":0.625,"b":1},{"a":0.65,"b":1},{"a":0.675,"b":1},{"a":0.7,"b":1},{"a":0.725,"b":1},{"a":0.75,"b":1},{"a":0.775,"b":1},{"a":0.8,"b":1},{"a":0.825,"b":1},{"a":0.85,"b":1},{"a":0.875,"b":1},{"a":0.9,"b":1},{"a":0.925,"b":1},{"a":0.95,"b":1},{"a":0.975,"b":1},{"a":1,"b":1},
{"a":0.55,"b":0.95},{"a":0.575,"b":0.95},{"a":0.6,"b":0.95},{"a":0.625,"b":0.95},{"a":0.65,"b":0.95},{"a":0.675,"b":0.95},{"a":0.7,"b":0.95},{"a":0.725,"b":0.95},{"a":0.75,"b":0.95},{"a":0.775,"b":0.95},{"a":0.8,"b":0.95},{"a":0.825,"b":0.95},{"a":0.85,"b":0.95},{"a":0.875,"b":0.95},{"a":0.9,"b":0.95},{"a":0.925,"b":0.95},{"a":0.95,"b":0.95},{"a":0.975,"b":0.95},{"a":1,"b":0.95},
{"a":0.55,"b":0.9},{"a":0.575,"b":0.9},{"a":0.6,"b":0.9},{"a":0.625,"b":0.9},{"a":0.65,"b":0.9},{"a":0.675,"b":0.9},{"a":0.7,"b":0.9},{"a":0.725,"b":0.9},{"a":0.75,"b":0.9},{"a":0.775,"b":0.9},{"a":0.8,"b":0.9},{"a":0.825,"b":0.9},{"a":0.85,"b":0.9},{"a":0.875,"b":0.9},{"a":0.9,"b":0.9},{"a":0.925,"b":0.9},{"a":0.95,"b":0.9},{"a":0.975,"b":0.9},{"a":1,"b":0.9},
{"a":0.575,"b":0.85},{"a":0.6,"b":0.85},{"a":0.625,"b":0.85},{"a":0.65,"b":0.85},{"a":0.675,"b":0.85},{"a":0.7,"b":0.85},{"a":0.725,"b":0.85},{"a":0.75,"b":0.85},{"a":0.775,"b":0.85},{"a":0.8,"b":0.85},{"a":0.825,"b":0.85},{"a":0.85,"b":0.85},{"a":0.875,"b":0.85},{"a":0.9,"b":0.85},{"a":0.925,"b":0.85},{"a":0.95,"b":0.85},{"a":0.975,"b":0.85},{"a":1,"b":0.85},
{"a":0.6,"b":0.8},{"a":0.625,"b":0.8},{"a":0.65,"b":0.8},{"a":0.675,"b":0.8},{"a":0.7,"b":0.8},{"a":0.725,"b":0.8},{"a":0.75,"b":0.8},{"a":0.775,"b":0.8},{"a":0.8,"b":0.8},{"a":0.825,"b":0.8},{"a":0.85,"b":0.8},{"a":0.875,"b":0.8},{"a":0.9,"b":0.8},{"a":0.925,"b":0.8},{"a":0.95,"b":0.8},{"a":0.975,"b":0.8},{"a":1,"b":0.8},
{"a":0.625,"b":0.75},{"a":0.65,"b":0.75},{"a":0.675,"b":0.75},{"a":0.7,"b":0.75},{"a":0.725,"b":0.75},{"a":0.75,"b":0.75},{"a":0.775,"b":0.75},{"a":0.8,"b":0.75},{"a":0.825,"b":0.75},{"a":0.85,"b":0.75},{"a":0.875,"b":0.75},{"a":0.9,"b":0.75},{"a":0.925,"b":0.75},{"a":0.95,"b":0.75},{"a":0.975,"b":0.75},{"a":1,"b":0.75},
{"a":0.625,"b":0.7},{"a":0.65,"b":0.7},{"a":0.675,"b":0.7},{"a":0.7,"b":0.7},{"a":0.725,"b":0.7},{"a":0.75,"b":0.7},{"a":0.775,"b":0.7},{"a":0.8,"b":0.7},{"a":0.825,"b":0.7},{"a":0.85,"b":0.7},{"a":0.875,"b":0.7},{"a":0.9,"b":0.7},{"a":0.925,"b":0.7},{"a":0.95,"b":0.7},{"a":0.975,"b":0.7},{"a":1,"b":0.7},
{"a":0.65,"b":0.65},{"a":0.675,"b":0.65},{"a":0.7,"b":0.65},{"a":0.725,"b":0.65},{"a":0.75,"b":0.65},{"a":0.775,"b":0.65},{"a":0.8,"b":0.65},{"a":0.825,"b":0.65},{"a":0.85,"b":0.65},{"a":0.875,"b":0.65},{"a":0.9,"b":0.65},{"a":0.925,"b":0.65},{"a":0.95,"b":0.65},{"a":0.975,"b":0.65},{"a":1,"b":0.65},
{"a":0.675,"b":0.6},{"a":0.7,"b":0.6},{"a":0.725,"b":0.6},{"a":0.75,"b":0.6},{"a":0.775,"b":0.6},{"a":0.8,"b":0.6},{"a":0.825,"b":0.6},{"a":0.85,"b":0.6},{"a":0.875,"b":0.6},{"a":0.9,"b":0.6},{"a":0.925,"b":0.6},{"a":0.95,"b":0.6},{"a":0.975,"b":0.6},{"a":1,"b":0.6},
{"a":0.675,"b":0.55},{"a":0.7,"b":0.55},{"a":0.725,"b":0.55},{"a":0.75,"b":0.55},{"a":0.775,"b":0.55},{"a":0.8,"b":0.55},{"a":0.825,"b":0.55},{"a":0.85,"b":0.55},{"a":0.875,"b":0.55},{"a":0.9,"b":0.55},{"a":0.925,"b":0.55},{"a":0.95,"b":0.55},{"a":0.975,"b":0.55},{"a":1,"b":0.55},
{"a":0.7,"b":0.5},{"a":0.725,"b":0.5},{"a":0.75,"b":0.5},{"a":0.775,"b":0.5},{"a":0.8,"b":0.5},{"a":0.825,"b":0.5},{"a":0.85,"b":0.5},{"a":0.875,"b":0.5},{"a":0.9,"b":0.5},{"a":0.925,"b":0.5},{"a":0.95,"b":0.5},{"a":0.975,"b":0.5},{"a":1,"b":0.5},
{"a":0.725,"b":0.45},{"a":0.75,"b":0.45},{"a":0.775,"b":0.45},{"a":0.8,"b":0.45},{"a":0.825,"b":0.45},{"a":0.85,"b":0.45},{"a":0.875,"b":0.45},{"a":0.9,"b":0.45},{"a":0.925,"b":0.45},{"a":0.95,"b":0.45},{"a":0.975,"b":0.45},{"a":1,"b":0.45},
{"a":0.75,"b":0.4},{"a":0.775,"b":0.4},{"a":0.8,"b":0.4},{"a":0.825,"b":0.4},{"a":0.85,"b":0.4},{"a":0.875,"b":0.4},{"a":0.9,"b":0.4},{"a":0.925,"b":0.4},{"a":0.95,"b":0.4},{"a":0.975,"b":0.4},{"a":1,"b":0.4},
{"a":0.75,"b":0.35},{"a":0.775,"b":0.35},{"a":0.8,"b":0.35},{"a":0.825,"b":0.35},{"a":0.85,"b":0.35},{"a":0.875,"b":0.35},{"a":0.9,"b":0.35},{"a":0.925,"b":0.35},{"a":0.95,"b":0.35},{"a":0.975,"b":0.35},{"a":1,"b":0.35},
{"a":0.775,"b":0.3},{"a":0.8,"b":0.3},{"a":0.825,"b":0.3},{"a":0.85,"b":0.3},{"a":0.875,"b":0.3},{"a":0.9,"b":0.3},{"a":0.925,"b":0.3},{"a":0.95,"b":0.3},{"a":0.975,"b":0.3},{"a":1,"b":0.3},
{"a":0.8,"b":0.25},{"a":0.825,"b":0.25},{"a":0.85,"b":0.25},{"a":0.875,"b":0.25},{"a":0.9,"b":0.25},{"a":0.925,"b":0.25},{"a":0.95,"b":0.25},{"a":0.975,"b":0.25},{"a":1,"b":0.25},
{"a":0.85,"b":0.2},{"a":0.875,"b":0.2},{"a":0.9,"b":0.2},{"a":0.925,"b":0.2},{"a":0.95,"b":0.2},{"a":0.975,"b":0.2},{"a":1,"b":0.2},
{"a":0.875,"b":0.15},{"a":0.9,"b":0.15},{"a":0.925,"b":0.15},{"a":0.95,"b":0.15},{"a":0.975,"b":0.15},{"a":1,"b":0.15},
{"a":0.95,"b":0.1},{"a":0.975,"b":0.1},{"a":1,"b":0.1},
{"a":0.975,"b":0.05},
{"a":0.975,"b":-0.05},{"a":1,"b":-0.05},
{"a":0.975,"b":-0.1},{"a":1,"b":-0.1},
{"a":0.95,"b":-0.15},{"a":0.975,"b":-0.15},{"a":1,"b":-0.15},
{"a":0.925,"b":-0.2},{"a":0.95,"b":-0.2},{"a":0.975,"b":-0.2},{"a":1,"b":-0.2},
{"a":0.925,"b":-0.25},{"a":0.95,"b":-0.25},{"a":0.975,"b":-0.25},{"a":1,"b":-0.25},
{"a":0.9,"b":-0.3},{"a":0.925,"b":-0.3},{"a":0.95,"b":-0.3},{"a":0.975,"b":-0.3},{"a":1,"b":-0.3},
{"a":0.875,"b":-0.35},{"a":0.9,"b":-0.35},{"a":0.925,"b":-0.35},{"a":0.95,"b":-0.35},{"a":0.975,"b":-0.35},{"a":1,"b":-0.35},
{"a":0.85,"b":-0.4},{"a":0.875,"b":-0.4},{"a":0.9,"b":-0.4},{"a":0.925,"b":-0.4},{"a":0.95,"b":-0.4},{"a":0.975,"b":-0.4},{"a":1,"b":-0.4},
{"a":0.825,"b":-0.45},{"a":0.85,"b":-0.45},{"a":0.875,"b":-0.45},{"a":0.9,"b":-0.45},{"a":0.925,"b":-0.45},{"a":0.95,"b":-0.45},{"a":0.975,"b":-0.45},{"a":1,"b":-0.45},
{"a":0.825,"b":-0.5},{"a":0.85,"b":-0.5},{"a":0.875,"b":-0.5},{"a":0.9,"b":-0.5},{"a":0.925,"b":-0.5},{"a":0.95,"b":-0.5},{"a":0.975,"b":-0.5},{"a":1,"b":-0.5},
{"a":0.8,"b":-0.55},{"a":0.825,"b":-0.55},{"a":0.85,"b":-0.55},{"a":0.875,"b":-0.55},{"a":0.9,"b":-0.55},{"a":0.925,"b":-0.55},{"a":0.95,"b":-0.55},{"a":0.975,"b":-0.55},{"a":1,"b":-0.55},
{"a":0.775,"b":-0.6},{"a":0.8,"b":-0.6},{"a":0.825,"b":-0.6},{"a":0.85,"b":-0.6},{"a":0.875,"b":-0.6},{"a":0.9,"b":-0.6},{"a":0.925,"b":-0.6},{"a":0.95,"b":-0.6},{"a":0.975,"b":-0.6},{"a":1,"b":-0.6},
{"a":0.775,"b":-0.65},{"a":0.8,"b":-0.65},{"a":0.825,"b":-0.65},{"a":0.85,"b":-0.65},{"a":0.875,"b":-0.65},{"a":0.9,"b":-0.65},{"a":0.925,"b":-0.65},{"a":0.95,"b":-0.65},{"a":0.975,"b":-0.65},{"a":1,"b":-0.65},
{"a":0.75,"b":-0.7},{"a":0.775,"b":-0.7},{"a":0.8,"b":-0.7},{"a":0.825,"b":-0.7},{"a":0.85,"b":-0.7},{"a":0.875,"b":-0.7},{"a":0.9,"b":-0.7},{"a":0.925,"b":-0.7},{"a":0.95,"b":-0.7},{"a":0.975,"b":-0.7},{"a":1,"b":-0.7},
{"a":0.75,"b":-0.75},{"a":0.775,"b":-0.75},{"a":0.8,"b":-0.75},{"a":0.825,"b":-0.75},{"a":0.85,"b":-0.75},{"a":0.875,"b":-0.75},{"a":0.9,"b":-0.75},{"a":0.925,"b":-0.75},{"a":0.95,"b":-0.75},{"a":0.975,"b":-0.75},{"a":1,"b":-0.75},
{"a":0.725,"b":-0.8},{"a":0.75,"b":-0.8},{"a":0.775,"b":-0.8},{"a":0.8,"b":-0.8},{"a":0.825,"b":-0.8},{"a":0.85,"b":-0.8},{"a":0.875,"b":-0.8},{"a":0.9,"b":-0.8},{"a":0.925,"b":-0.8},{"a":0.95,"b":-0.8},{"a":0.975,"b":-0.8},{"a":1,"b":-0.8},
{"a":0.725,"b":-0.85},{"a":0.75,"b":-0.85},{"a":0.775,"b":-0.85},{"a":0.8,"b":-0.85},{"a":0.825,"b":-0.85},{"a":0.85,"b":-0.85},{"a":0.875,"b":-0.85},{"a":0.9,"b":-0.85},{"a":0.925,"b":-0.85},{"a":0.95,"b":-0.85},{"a":0.975,"b":-0.85},{"a":1,"b":-0.85},
{"a":0.7,"b":-0.9},{"a":0.725,"b":-0.9},{"a":0.75,"b":-0.9},{"a":0.775,"b":-0.9},{"a":0.8,"b":-0.9},{"a":0.825,"b":-0.9},{"a":0.85,"b":-0.9},{"a":0.875,"b":-0.9},{"a":0.9,"b":-0.9},{"a":0.925,"b":-0.9},{"a":0.95,"b":-0.9},{"a":0.975,"b":-0.9},{"a":1,"b":-0.9},
{"a":0.7,"b":-0.95},{"a":0.725,"b":-0.95},{"a":0.75,"b":-0.95},{"a":0.775,"b":-0.95},{"a":0.8,"b":-0.95},{"a":0.825,"b":-0.95},{"a":0.85,"b":-0.95},{"a":0.875,"b":-0.95},{"a":0.9,"b":-0.95},{"a":0.925,"b":-0.95},{"a":0.95,"b":-0.95},{"a":0.975,"b":-0.95},{"a":1,"b":-0.95},
{"a":0.7,"b":-1},{"a":0.725,"b":-1},{"a":0.75,"b":-1},{"a":0.775,"b":-1},{"a":0.8,"b":-1},{"a":0.825,"b":-1},{"a":0.85,"b":-1},{"a":0.875,"b":-1},{"a":0.9,"b":-1},{"a":0.925,"b":-1},{"a":0.95,"b":-1},{"a":0.975,"b":-1},{"a":1,"b":-1}
]
},
"layer": [
 {"data": {"name": "g"},
  "mark": {"type": "point", "shape": "circle", "filled": false, "size": 11, "strokeWidth": 1, "color": "#2e9c62", "opacity": 0.9},
  "encoding": {
   "x": {"field": "a", "type": "quantitative", "scale": {"domain": [0, 1], "nice": false, "zero": false},
     "axis": {"orient": "bottom", "title": "α", "values": [0,0.1,0.2,0.3,0.4,0.5,0.6,0.7,0.8,0.9,1], "labelExpr": "format(datum.value, '~g')", "titlePadding": 4}},
   "y": {"field": "b", "type": "quantitative", "scale": {"domain": [-1, 1], "nice": false, "zero": false},
     "axis": {"orient": "left", "title": "β", "titleAngle": 0, "titleBaseline": "middle", "titleX": -28, "values": [-1,-0.8,-0.6,-0.4,-0.2,0,0.2,0.4,0.6,0.8,1], "labelExpr": "datum.value < 0 ? '-' + format(-datum.value, '~g') : format(datum.value, '~g')"}}
  }},
 {"data": {"name": "r"},
  "mark": {"type": "point", "shape": "M-1,-1L1,1M-1,1L1,-1", "filled": false, "size": 13, "strokeWidth": 1, "color": "#ff1f1f", "opacity": 0.9},
  "encoding": {
   "x": {"field": "a", "type": "quantitative", "scale": {"domain": [0, 1], "nice": false, "zero": false},
     "axis": {"orient": "top", "title": null, "labels": false, "values": [0,0.1,0.2,0.3,0.4,0.5,0.6,0.7,0.8,0.9,1]}},
   "y": {"field": "b", "type": "quantitative", "scale": {"domain": [-1, 1], "nice": false, "zero": false},
     "axis": {"orient": "right", "title": null, "labels": false, "values": [-1,-0.8,-0.6,-0.4,-0.2,0,0.2,0.4,0.6,0.8,1]}}
  }}
],
"resolve": {"axis": {"x": "independent", "y": "independent"}}
}
